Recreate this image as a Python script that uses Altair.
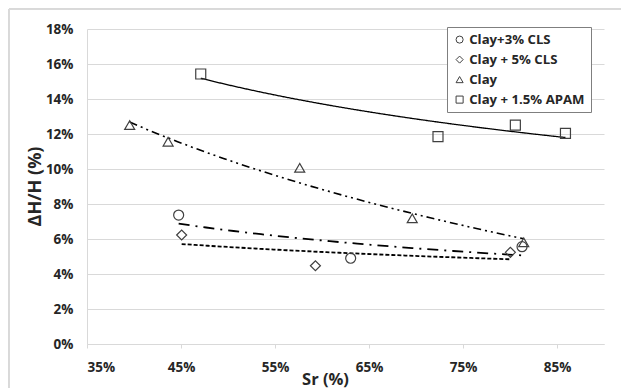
import altair as alt
import pandas as pd

# ---- data ----
series_names = ["Clay+3% CLS", "Clay + 5% CLS", "Clay", "Clay + 1.5% APAM"]
cls3_x = [0.4475, 0.6305, 0.8128]
cls3_y = [0.0737, 0.0490, 0.0556]
cls5_x = [0.4507, 0.5930, 0.8004]
cls5_y = [0.0623, 0.0447, 0.0524]
clay_x = [0.3954, 0.4363, 0.5763, 0.6960, 0.8146]
clay_y = [0.1251, 0.1156, 0.1007, 0.0718, 0.0581]
apam_x = [0.4710, 0.7234, 0.8057, 0.8590]
apam_y = [0.1543, 0.1185, 0.1251, 0.1204]

x_ticks = [0.35, 0.45, 0.55, 0.65, 0.75, 0.85]
y_ticks = [0.00, 0.02, 0.04, 0.06, 0.08, 0.10, 0.12, 0.14, 0.16, 0.18]

rows = []
for name, xs, ys in zip(series_names, [cls3_x, cls5_x, clay_x, apam_x],
                        [cls3_y, cls5_y, clay_y, apam_y]):
    for a, b in zip(xs, ys):
        rows.append({"series": name, "x": a, "y": b})
df = pd.DataFrame(rows)

FONT = "Open Sans"
TXT = "#262626"
GRID = "#d9d9d9"

x_enc = alt.X("x:Q", scale=alt.Scale(domain=[0.35, 0.90], nice=False, zero=False),
              axis=alt.Axis(values=x_ticks, format=".0%", title="Sr (%)", grid=False,
                            labelOverlap=False,
                            domainColor=GRID, tickColor=GRID, tickSize=4,
                            labelPadding=12, labelFont=FONT, labelFontSize=13.5,
                            labelFontWeight="bold", labelColor=TXT,
                            titleFont=FONT, titleFontSize=16.5, titleFontWeight="bold",
                            titleColor=TXT, titleX=238, titleY=40,
                            titleBaseline="alphabetic", titleAlign="center"))
y_enc = alt.Y("y:Q", scale=alt.Scale(domain=[0, 0.18], nice=False),
              axis=alt.Axis(values=y_ticks, format=".0%", title="ΔH/H (%)",
                            labelOverlap=False,
                            grid=True, gridColor=GRID, domainColor=GRID,
                            ticks=False, tickSize=0, labelPadding=14,
                            labelFont=FONT, labelFontSize=13.5, labelFontWeight="bold",
                            labelColor=TXT, titleFont=FONT, titleFontSize=18,
                            titleFontWeight="bold", titleColor=TXT,
                            titleAngle=270, titleX=-52, titleY=157,
                            titleAlign="center", titleBaseline="middle"))

base = alt.Chart(df)

points = base.mark_point(filled=False, stroke="#404040", strokeWidth=1.2, size=100, opacity=1).encode(
    x=x_enc, y=y_enc,
    shape=alt.Shape("series:N",
                    scale=alt.Scale(domain=series_names,
                                    range=["circle", "diamond", "triangle-up", "square"]),
                    legend=alt.Legend(title=None, orient="none", legendX=360, legendY=-2,
                                      strokeColor="#7f7f7f", fillColor="white",
                                      padding=6, rowPadding=6, symbolSize=50,
                                      symbolStrokeColor="#404040", symbolFillColor="white",
                                      symbolStrokeWidth=1, symbolOffset=0, labelOffset=3,
                                      labelFont=FONT, labelFontSize=13.2, labelFontWeight="bold",
                                      labelColor=TXT, labelLimit=300)),
)

methods = {"Clay+3% CLS": "pow", "Clay + 5% CLS": "pow", "Clay": "log", "Clay + 1.5% APAM": "pow"}
dashes = {"Clay+3% CLS": [11, 6, 2, 6], "Clay + 5% CLS": [4, 2],
          "Clay": [8, 4, 2, 4, 2, 4], "Clay + 1.5% APAM": [1, 0]}
widths = {"Clay+3% CLS": 1.8, "Clay + 5% CLS": 1.8, "Clay": 1.6, "Clay + 1.5% APAM": 1.3}

lines = []
for name in series_names:
    ln = base.transform_filter(alt.datum.series == name).transform_regression(
        "x", "y", method=methods[name]
    ).mark_line(color="black", strokeDash=dashes[name], strokeWidth=widths[name]).encode(
        x=x_enc, y=y_enc
    )
    lines.append(ln)

border_top = alt.Chart(df).mark_rule(color=GRID, strokeWidth=1).encode(
    x=alt.value(-78), x2=alt.value(540), y=alt.value(-20))
border_left = alt.Chart(df).mark_rule(color=GRID, strokeWidth=1).encode(
    x=alt.value(-78), y=alt.value(-20), y2=alt.value(370))

chart = alt.layer(border_top, border_left, *lines, points).properties(
    width=517, height=315,
    autosize=alt.AutoSizeParams(type="none"),
    padding={"left": 87, "top": 29, "right": 17, "bottom": 44},
    background="white",
).configure_view(stroke=None)

chart.save("out.html", embed_options={"renderer": "svg", "actions": False})
